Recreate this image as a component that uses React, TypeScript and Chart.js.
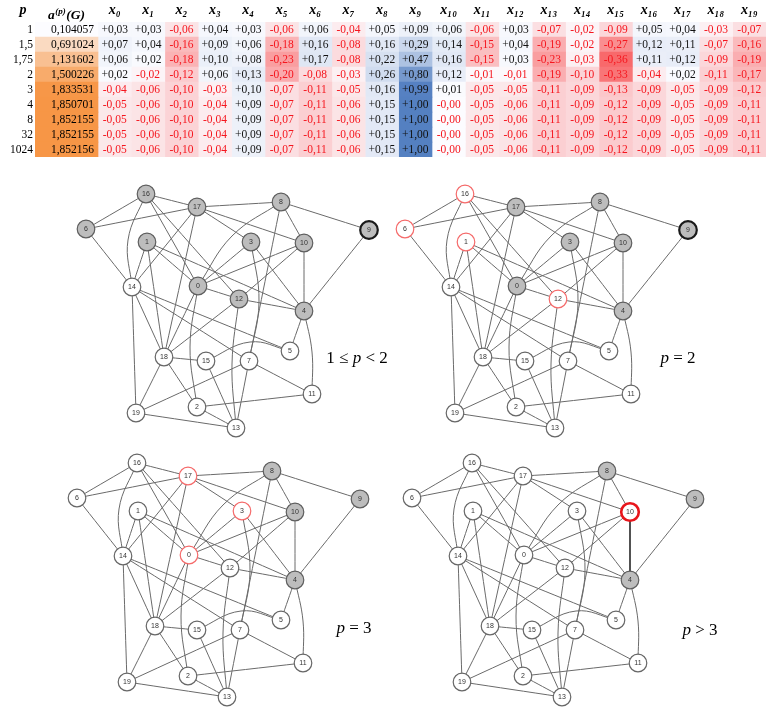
import React, { useEffect, useRef } from 'react';
import { Chart, registerables } from 'chart.js';

Chart.register(...registerables);

// ---------------- table data ----------------
const ROW_P = ['1', '1,5', '1,75', '2', '3', '4', '8', '32', '1024'];
const A_VALUES = [0.104057, 0.691024, 1.131602, 1.500226, 1.833531, 1.850701, 1.852155, 1.852155, 1.852156];
const P_HEADER = 'p';
const A_HEADER = ['a', '(p)', '(G)'];
const X_HEADERS = ['x₀', 'x₁', 'x₂', 'x₃', 'x₄', 'x₅', 'x₆', 'x₇', 'x₈', 'x₉',
  'x₁₀', 'x₁₁', 'x₁₂', 'x₁₃', 'x₁₄', 'x₁₅', 'x₁₆', 'x₁₇', 'x₁₈', 'x₁₉'];

const X_P1 = [0.03, 0.03, -0.06, 0.04, 0.03, -0.06, 0.06, -0.04, 0.05, 0.09, 0.06, -0.06, 0.03, -0.07, -0.02, -0.09, 0.05, 0.04, -0.03, -0.07];
const X_P1_5 = [0.07, 0.04, -0.16, 0.09, 0.06, -0.18, 0.16, -0.08, 0.16, 0.29, 0.14, -0.15, 0.04, -0.19, -0.02, -0.27, 0.12, 0.11, -0.07, -0.16];
const X_P1_75 = [0.06, 0.02, -0.18, 0.10, 0.08, -0.23, 0.17, -0.08, 0.22, 0.47, 0.16, -0.15, 0.03, -0.23, -0.03, -0.36, 0.11, 0.12, -0.09, -0.19];
const X_P2 = [0.02, -0.02, -0.12, 0.06, 0.13, -0.20, -0.08, -0.03, 0.26, 0.80, 0.12, -0.01, -0.01, -0.19, -0.10, -0.33, -0.04, 0.02, -0.11, -0.17];
const X_P3 = [-0.04, -0.06, -0.10, -0.03, 0.10, -0.07, -0.11, -0.05, 0.16, 0.99, 0.01, -0.05, -0.05, -0.11, -0.09, -0.13, -0.09, -0.05, -0.09, -0.12];
const X_P4 = [-0.05, -0.06, -0.10, -0.04, 0.09, -0.07, -0.11, -0.06, 0.15, 1.00, -0.0, -0.05, -0.06, -0.11, -0.09, -0.12, -0.09, -0.05, -0.09, -0.11];
const X_P8 = [-0.05, -0.06, -0.10, -0.04, 0.09, -0.07, -0.11, -0.06, 0.15, 1.00, -0.0, -0.05, -0.06, -0.11, -0.09, -0.12, -0.09, -0.05, -0.09, -0.11];
const X_P32 = [-0.05, -0.06, -0.10, -0.04, 0.09, -0.07, -0.11, -0.06, 0.15, 1.00, -0.0, -0.05, -0.06, -0.11, -0.09, -0.12, -0.09, -0.05, -0.09, -0.11];
const X_P1024 = [-0.05, -0.06, -0.10, -0.04, 0.09, -0.07, -0.11, -0.06, 0.15, 1.00, -0.0, -0.05, -0.06, -0.11, -0.09, -0.12, -0.09, -0.05, -0.09, -0.11];
const X_ROWS = [X_P1, X_P1_5, X_P1_75, X_P2, X_P3, X_P4, X_P8, X_P32, X_P1024];

// ---------------- graph data ----------------
// node layout coordinates (node id = index)
const NODE_X = [138, 87, 137, 191, 244, 230, 26, 189, 221, 309, 244, 252, 179, 176, 72, 146, 86, 137, 104, 76];
const NODE_Y = [106, 62, 227, 62, 131, 171, 49, 181, 22, 50, 63, 214, 119, 248, 107, 181, 14, 27, 177, 233];
const EDGES = [
  [16, 17], [16, 6], [16, 14], [16, 0], [16, 12],
  [17, 6], [17, 8], [17, 14], [17, 18], [17, 3], [17, 10],
  [8, 9], [8, 0], [8, 10], [8, 7],
  [9, 4], [6, 14],
  [1, 14], [1, 18], [1, 0], [1, 4],
  [3, 0], [3, 4], [3, 7],
  [10, 0], [10, 12], [10, 4],
  [14, 19], [14, 18], [14, 5], [14, 7],
  [0, 18], [0, 12], [0, 2],
  [12, 4], [12, 18], [12, 13],
  [4, 5], [4, 11], [5, 15],
  [18, 15], [18, 19], [18, 2],
  [15, 13], [7, 19], [7, 11], [7, 13],
  [2, 11], [2, 13], [19, 13],
];
// curved edges pass through these layout points
const EDGE_BENDS: Record<string, number[]> = {
  '16-14': [68, 60], '0-2': [130, 167], '8-0': [172, 56], '3-7': [199, 122],
  '4-11': [252, 172], '5-15': [190, 162], '12-13': [172, 184],
};
const PANEL_GRAY = [
  [16, 17, 8, 6, 1, 3, 10, 9, 0, 12, 4],
  [17, 8, 3, 10, 0, 4, 9],
  [8, 10, 9, 4],
  [8, 9, 4],
];
const PANEL_RED = [[], [16, 6, 1, 12], [17, 3, 0], [10]];
const PANEL_BOLD_BLACK = [[9], [9], [], []];
const PANEL_BOLD_RED = [[], [], [], [10]];
const PANEL_BOLD_EDGE = [[], [], [], [[10, 4]]];

// ---------------- layout / style ----------------
const SERIF = '"Liberation Serif", "Times New Roman", serif';
const WHITE = [252, 252, 255];
const BLUE = [84, 128, 193];
const RED = [248, 105, 107];
const ORANGE = [247, 150, 70];
const mix = (a: number[], b: number[], t: number) =>
  `rgb(${a.map((c, i) => Math.round(c + (b[i] - c) * t)).join(',')})`;
const heat = (v: number) => (v >= 0 ? mix(WHITE, BLUE, Math.min(v, 1)) : mix(WHITE, RED, Math.min(-v / 0.36, 1)));
const aMin = Math.min(...A_VALUES);
const aMax = Math.max(...A_VALUES);
const orange = (v: number) => mix(WHITE, ORANGE, (v - aMin) / (aMax - aMin));
const isNeg = (v: number) => v < 0 || Object.is(v, -0);
const fmtX = (v: number) => (isNeg(v) ? '-' : '+') + Math.abs(v).toFixed(2).replace('.', ',');
const fmtA = (v: number) => v.toFixed(6).replace('.', ',');

const A_W = 63;
const X_W = 33.4;
const TOTAL_W = A_W + X_W * X_HEADERS.length;
const HEADER_POS = [-12, A_W / 2, ...X_HEADERS.map((_, j) => A_W + X_W * (j + 0.5))];
const HEADER_LABELS = [P_HEADER, A_HEADER.join(''), ...X_HEADERS];

const PANELS = [
  { left: 60, top: 180, label: ['1 ≤ ', 'p', ' < 2'], lx: 357, ly: 357 },
  { left: 379, top: 180, label: ['', 'p', ' = 2'], lx: 678, ly: 357 },
  { left: 51, top: 449, label: ['', 'p', ' = 3'], lx: 354, ly: 627 },
  { left: 386, top: 449, label: ['', 'p', ' > 3'], lx: 700, ly: 629 },
];
const G_W = 330;
const G_H = 262;

const cellText = {
  id: 'cellText',
  afterDatasetsDraw(chart: any) {
    const ctx = chart.ctx;
    ctx.save();
    ctx.font = `11.5px ${SERIF}`;
    ctx.textBaseline = 'middle';
    chart.data.datasets.forEach((_: any, di: number) => {
      const meta = chart.getDatasetMeta(di);
      meta.data.forEach((bar: any, ri: number) => {
        const { x, y, base } = bar.getProps(['x', 'y', 'base'], true);
        const l = Math.min(x, base);
        const r = Math.max(x, base);
        if (di === 0) {
          ctx.fillStyle = '#000';
          ctx.textAlign = 'right';
          ctx.fillText(fmtA(A_VALUES[ri]), r - 4, y + 0.5);
        } else {
          const v = X_ROWS[ri][di - 1];
          ctx.fillStyle = isNeg(v) ? '#f5161e' : '#111';
          ctx.textAlign = 'center';
          ctx.fillText(fmtX(v), (l + r) / 2, y + 0.5);
        }
      });
    });
    ctx.restore();
  },
  // the a^(p)(G) header, drawn with a raised superscript
  afterDraw(chart: any) {
    const xs = chart.scales.x;
    const ctx = chart.ctx;
    const cx = xs.getPixelForValue(HEADER_POS[1]);
    const base = 19;
    const big = `italic bold 13.5px ${SERIF}`;
    const small = `italic bold 9px ${SERIF}`;
    ctx.save();
    ctx.fillStyle = '#000';
    ctx.textBaseline = 'alphabetic';
    ctx.textAlign = 'left';
    ctx.font = big;
    const w0 = ctx.measureText(A_HEADER[0]).width;
    const w2 = ctx.measureText(A_HEADER[2]).width;
    ctx.font = small;
    const w1 = ctx.measureText(A_HEADER[1]).width;
    let x = cx - (w0 + w1 + w2 + 1) / 2;
    ctx.font = big;
    ctx.fillText(A_HEADER[0], x, base);
    x += w0 + 0.5;
    ctx.font = small;
    ctx.fillText(A_HEADER[1], x, base - 5);
    x += w1 + 0.5;
    ctx.font = big;
    ctx.fillText(A_HEADER[2], x, base);
    ctx.restore();
  },
};

const nodeLabels = {
  id: 'nodeLabels',
  afterDatasetsDraw(chart: any) {
    const ctx = chart.ctx;
    const meta = chart.getDatasetMeta(0);
    ctx.save();
    ctx.font = '7px "Liberation Sans", Arial, sans-serif';
    ctx.fillStyle = '#333';
    ctx.textAlign = 'center';
    ctx.textBaseline = 'middle';
    meta.data.forEach((pt: any, i: number) => {
      ctx.fillText(String(i), pt.x, pt.y + 0.5);
    });
    ctx.restore();
  },
};

function buildTable(canvas: HTMLCanvasElement) {
  const datasets = [
    {
      label: 'a',
      data: ROW_P.map(() => A_W),
      backgroundColor: A_VALUES.map(orange),
    },
    ...X_HEADERS.map((h, j) => ({
      label: h,
      data: ROW_P.map(() => X_W),
      backgroundColor: X_ROWS.map((row) => heat(row[j])),
    })),
  ];
  return new Chart(canvas, {
    type: 'bar',
    data: { labels: ROW_P, datasets },
    options: {
      animation: false,
      responsive: false,
      devicePixelRatio: 1,
      indexAxis: 'y',
      events: [],
      layout: { padding: 0, autoPadding: false },
      plugins: { legend: { display: false }, tooltip: { enabled: false } },
      datasets: { bar: { barPercentage: 1, categoryPercentage: 1, borderWidth: 0 } },
      scales: {
        x: {
          type: 'linear',
          position: 'top',
          stacked: true,
          min: 0,
          max: TOTAL_W,
          grid: { display: false, drawTicks: false },
          border: { display: false },
          afterBuildTicks: (s: any) => {
            s.ticks = HEADER_POS.map((v) => ({ value: v }));
          },
          afterFit: (s: any) => {
            s.height = 22;
          },
          ticks: {
            autoSkip: false,
            maxRotation: 0,
            minRotation: 0,
            padding: 3,
            color: (c: any) => (c.index === 1 ? 'rgba(0,0,0,0)' : '#000'),
            font: { family: SERIF, size: 14, style: 'italic', weight: 'bold' },
            callback: (_v: any, i: number) => HEADER_LABELS[i],
          },
        },
        y: {
          type: 'category',
          stacked: true,
          position: 'left',
          grid: { display: false, drawTicks: false },
          border: { display: false },
          afterFit: (s: any) => {
            s.width = 35;
          },
          ticks: { autoSkip: false, padding: 2, color: '#000', font: { family: SERIF, size: 11.5 } },
        },
      },
    } as any,
    plugins: [cellText],
  });
}

function buildGraph(canvas: HTMLCanvasElement, pi: number) {
  const gray = PANEL_GRAY[pi];
  const red = PANEL_RED[pi];
  const bg = NODE_X.map((_, i) => (gray.includes(i) ? '#bdbdbd' : '#ffffff'));
  const bc = NODE_X.map((_, i) => {
    if (PANEL_BOLD_RED[pi].includes(i)) return '#e8151b';
    if (PANEL_BOLD_BLACK[pi].includes(i)) return '#1a1a1a';
    if (red.includes(i)) return '#f56a6a';
    return gray.includes(i) ? '#5e5e5e' : '#666666';
  });
  const bw = NODE_X.map((_, i) => {
    if (PANEL_BOLD_RED[pi].includes(i)) return 2.6;
    if (PANEL_BOLD_BLACK[pi].includes(i)) return 2.2;
    return 1.2;
  });
  const nodes = {
    data: NODE_X.map((x, i) => ({ x, y: NODE_Y[i] })),
    pointRadius: 8.8,
    pointBackgroundColor: bg,
    pointBorderColor: bc,
    pointBorderWidth: bw,
    showLine: false,
    clip: false,
    order: 0,
  };
  const edges = EDGES.map(([a, b]) => {
    const bend = EDGE_BENDS[`${a}-${b}`];
    const pts = [{ x: NODE_X[a], y: NODE_Y[a] }];
    if (bend) pts.push({ x: bend[0], y: bend[1] });
    pts.push({ x: NODE_X[b], y: NODE_Y[b] });
    const bold = PANEL_BOLD_EDGE[pi].some(([p, q]) => (p === a && q === b) || (p === b && q === a));
    return {
      data: pts,
      showLine: true,
      pointRadius: 0,
      borderColor: bold ? '#333333' : '#6a6a6a',
      borderWidth: bold ? 1.7 : 1,
      tension: 0.4,
      clip: false,
      order: 1,
    };
  });
  return new Chart(canvas, {
    type: 'scatter',
    data: { datasets: [nodes, ...edges] as any },
    options: {
      animation: false,
      responsive: false,
      devicePixelRatio: 1,
      events: [],
      layout: { padding: 0, autoPadding: false },
      plugins: { legend: { display: false }, tooltip: { enabled: false } },
      scales: {
        x: { type: 'linear', min: 0, max: G_W, display: false },
        y: { type: 'linear', min: 0, max: G_H, reverse: true, display: false },
      },
    } as any,
    plugins: [nodeLabels],
  });
}

export default function App() {
  const tableRef = useRef<HTMLCanvasElement>(null);
  const g0 = useRef<HTMLCanvasElement>(null);
  const g1 = useRef<HTMLCanvasElement>(null);
  const g2 = useRef<HTMLCanvasElement>(null);
  const g3 = useRef<HTMLCanvasElement>(null);

  useEffect(() => {
    const charts: Chart[] = [];
    if (tableRef.current) charts.push(buildTable(tableRef.current));
    [g0, g1, g2, g3].forEach((r, i) => {
      if (r.current) charts.push(buildGraph(r.current, i));
    });
    return () => charts.forEach((c) => c.destroy());
  }, []);

  const refs = [g0, g1, g2, g3];
  return (
    <div style={{ position: 'absolute', left: 0, top: 0, width: 766, height: 708, background: '#fff', overflow: 'hidden' }}>
      <canvas ref={tableRef} width={766} height={166} style={{ position: 'absolute', left: 0, top: 0, display: 'block' }} />
      {PANELS.map((p, i) => (
        <canvas
          key={i}
          ref={refs[i]}
          width={G_W}
          height={G_H}
          style={{ position: 'absolute', left: p.left, top: p.top, display: 'block' }}
        />
      ))}
      {PANELS.map((p, i) => (
        <div
          key={'l' + i}
          style={{
            position: 'absolute',
            left: p.lx,
            top: p.ly,
            transform: 'translate(-50%, -50%)',
            fontFamily: SERIF,
            fontSize: 17,
            color: '#000',
            whiteSpace: 'pre',
            lineHeight: 1,
          }}
        >
          {p.label[0]}
          <i>{p.label[1]}</i>
          {p.label[2]}
        </div>
      ))}
    </div>
  );
}
